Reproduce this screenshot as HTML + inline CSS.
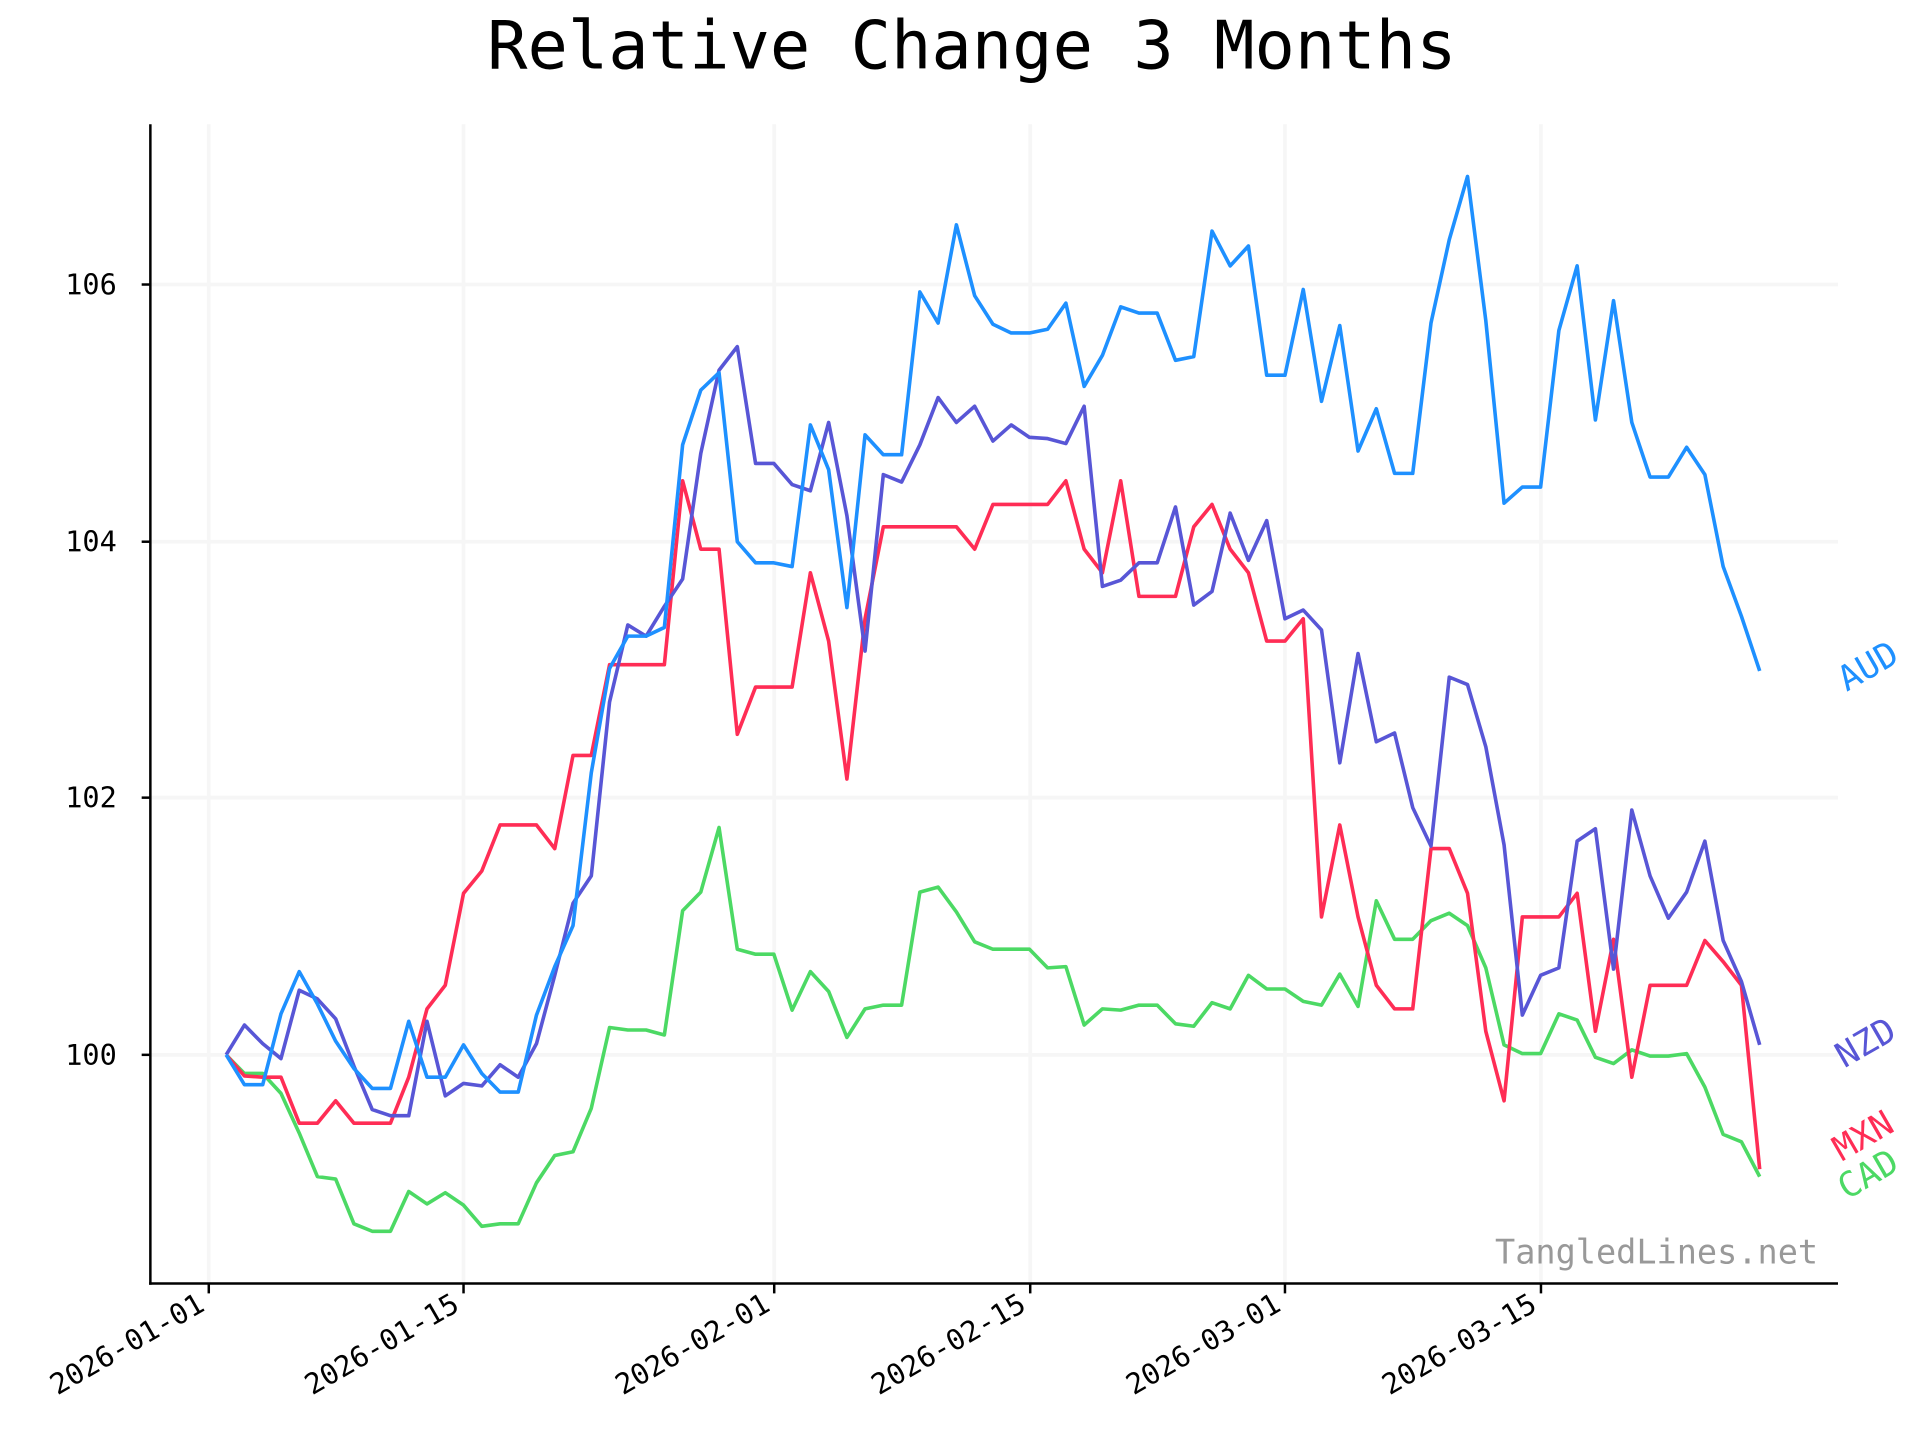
<!DOCTYPE html>
<html><head><meta charset="utf-8"><style>
html,body{margin:0;padding:0;background:#fff;}
svg{display:block;}
text{font-family:"DejaVu Sans Mono","Liberation Mono",monospace;}
</style></head><body>
<svg id="s" width="1920" height="1440" viewBox="0 0 1545 1159" preserveAspectRatio="none" xmlns="http://www.w3.org/2000/svg">
<rect width="1545" height="1159" fill="#fff"/>
<g stroke="#f6f6f6" stroke-width="3">
<line x1="168" y1="100" x2="168" y2="1033"/>
<line x1="373" y1="100" x2="373" y2="1033"/>
<line x1="623" y1="100" x2="623" y2="1033"/>
<line x1="829" y1="100" x2="829" y2="1033"/>
<line x1="1034" y1="100" x2="1034" y2="1033"/>
<line x1="1240" y1="100" x2="1240" y2="1033"/>
<line x1="121" y1="229" x2="1479" y2="229"/>
<line x1="121" y1="436" x2="1479" y2="436"/>
<line x1="121" y1="642" x2="1479" y2="642"/>
<line x1="121" y1="849" x2="1479" y2="849"/>
</g>
<text x="782" y="55" font-size="54" text-anchor="middle" fill="#000">Relative Change 3 Months</text>
<text x="1463" y="1017" font-size="27" text-anchor="end" fill="#999">TangledLines.net</text>
<g id="series" fill="none" stroke-width="2.9" stroke-linejoin="round"></g>
<g stroke="#000" stroke-width="2">
<line x1="121" y1="100" x2="121" y2="1034"/>
<line x1="120" y1="1033" x2="1479" y2="1033"/>
<line x1="114" y1="229" x2="121" y2="229"/>
<line x1="114" y1="436" x2="121" y2="436"/>
<line x1="114" y1="642" x2="121" y2="642"/>
<line x1="114" y1="849" x2="121" y2="849"/>
<line x1="168" y1="1033" x2="168" y2="1041"/>
<line x1="373" y1="1033" x2="373" y2="1041"/>
<line x1="623" y1="1033" x2="623" y2="1041"/>
<line x1="829" y1="1033" x2="829" y2="1041"/>
<line x1="1034" y1="1033" x2="1034" y2="1041"/>
<line x1="1240" y1="1033" x2="1240" y2="1041"/>
</g>
<g font-size="23" fill="#000" text-anchor="end">
<text x="94" y="237">106</text>
<text x="94" y="444">104</text>
<text x="94" y="650">102</text>
<text x="94" y="857">100</text>
<text transform="translate(166,1054) rotate(-30)">2026-01-01</text>
<text transform="translate(371,1054) rotate(-30)">2026-01-15</text>
<text transform="translate(621,1054) rotate(-30)">2026-02-01</text>
<text transform="translate(827,1054) rotate(-30)">2026-02-15</text>
<text transform="translate(1032,1054) rotate(-30)">2026-03-01</text>
<text transform="translate(1238,1054) rotate(-30)">2026-03-15</text>
</g>
<g font-size="28">
<text transform="translate(1486,557) rotate(-30)" fill="#1e90ff">AUD</text>
<text transform="translate(1484,860) rotate(-30)" fill="#5856d6">NZD</text>
<text transform="translate(1482,935) rotate(-30)" fill="#ff2d55">MXN</text>
<text transform="translate(1486,966) rotate(-30)" fill="#4cd964">CAD</text>
</g>
</svg>
<script>
var D={
"#4cd964":[849,864,864,880,912,947,949,985,991,991,959,969,960,970,987,985,985,952,930,927,892,827,829,829,833,733,718,666,764,768,768,813,782,798,835,812,809,809,718,714,734,758,764,764,764,779,778,825,812,813,809,809,824,826,807,812,785,796,796,806,809,784,810,725,756,756,741,735,745,779,841,848,848,816,821,851,856,845,850,850,848,875,913,919,947],
"#ff2d55":[849,866,867,867,904,904,886,904,904,904,867,812,793,719,701,664,664,664,683,608,608,535,535,535,535,387,442,442,591,553,553,553,461,516,627,498,424,424,424,424,424,442,406,406,406,406,387,442,461,387,480,480,480,424,406,442,461,516,516,498,738,664,738,793,812,812,683,683,719,830,886,738,738,738,719,830,756,867,793,793,793,757,774,793,941],
"#5856d6":[849,825,840,852,797,804,820,858,893,898,898,822,882,872,874,857,867,840,785,727,705,565,503,512,488,466,365,298,279,373,373,390,395,340,415,524,382,388,358,320,340,327,355,342,352,353,357,327,472,467,453,453,408,487,476,413,451,419,498,491,507,614,526,597,590,650,681,545,551,601,680,817,785,779,677,667,780,652,705,739,718,677,757,790,841],
"#1e90ff":[849,873,873,816,782,808,838,860,876,876,822,867,867,841,864,879,879,817,778,745,622,538,512,512,505,358,314,300,436,453,453,456,342,378,489,350,366,366,235,260,181,238,261,268,268,265,244,311,286,247,252,252,290,287,186,214,198,302,302,233,323,262,363,329,381,381,260,193,142,258,405,392,392,266,214,338,242,340,384,384,360,382,456,496,540]
};
var g=document.getElementById('series');
for(var c in D){var a=D[c],p=[];for(var i=0;i<a.length;i++)p.push((182+i*14.69).toFixed(1)+','+a[i]);
var e=document.createElementNS('http://www.w3.org/2000/svg','polyline');e.setAttribute('points',p.join(' '));e.setAttribute('stroke',c);g.appendChild(e);}
</script>
</body></html>
